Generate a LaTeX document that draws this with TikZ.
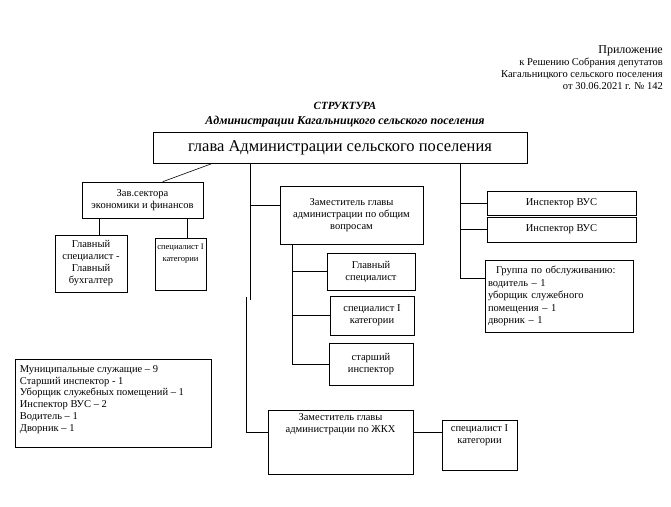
\documentclass[tikz,border=0pt]{standalone}
\usepackage{fontspec}
\setmainfont{Liberation Serif}
\usetikzlibrary{positioning}
\tikzstyle{blok} = [draw, semithick, rectangle, align=center, inner sep=1pt, font=\fontsize{10.5}{12}\selectfont]
\tikzstyle{tekst} = [align=center, inner sep=0pt, font=\fontsize{10.5}{12}\selectfont]
\tikzstyle{linija} = [semithick]

\begin{document}
\begin{tikzpicture}[x=1pt, y=-1pt]
	\useasboundingbox[fill=white] (0,0) rectangle (671,506);
	% header
	\node[align=right, anchor=north east, inner sep=0pt, font=\fontsize{10.5}{12}\selectfont] (pril) at (663,45)
		{{\fontsize{12}{13}\selectfont Приложение}\\к Решению Собрания депутатов\\Кагальницкого сельского поселения\\от 30.06.2021 г. № 142};
	\node[align=center, inner sep=0pt, font=\bfseries\itshape] (naslov) at (345,114.5)
		{{\fontsize{11}{15}\selectfont СТРУКТУРА}\\[2.5pt]{\fontsize{12}{15}\selectfont Администрации Кагальницкого сельского поселения}};
	% boxes
	\node[blok, minimum width=374, minimum height=31, font=\fontsize{16.5}{18}\selectfont] (head) at (340,147.5)
		{глава Администрации сельского поселения};
	\node[blok, minimum width=121, minimum height=36] (zav) at (142.5,200) {Зав.сектора\\экономики и финансов};
	\node[blok, minimum width=72, minimum height=57] (glbuh) at (91,263.5) {Главный\\специалист -\\Главный\\бухгалтер};
	\node[blok, minimum width=51, minimum height=52] (spec1) at (180.5,264) {};
	\node[tekst, anchor=north, font=\fontsize{8.5}{12}\selectfont] (spec1t) at ([yshift=-6pt]spec1.north) {специалист I\\категории};
	\node[blok, minimum width=143, minimum height=58] (zamob) at (351.5,215) {Заместитель главы\\администрации по общим\\вопросам};
	\node[blok, minimum width=88, minimum height=37] (glspec) at (371,271.5) {Главный\\специалист};
	\node[blok, minimum width=84, minimum height=39] (spec2) at (372,315.5) {специалист I\\категории};
	\node[blok, minimum width=84, minimum height=42] (starsh) at (371,364) {старший\\инспектор};
	\node[blok, minimum width=149, minimum height=24] (vus1) at (561.5,203) {Инспектор ВУС};
	\node[blok, minimum width=149, minimum height=25] (vus2) at (561.5,229.5) {Инспектор ВУС};
	\node[blok, minimum width=148, minimum height=72, align=left, text width=142, font=\fontsize{10.5}{12.5}\selectfont] (gruppa) at (559,296)
		{\hspace*{8pt}Группа по обслуживанию:\\водитель – 1\\уборщик служебного\\помещения – 1\\дворник – 1};
	\node[blok, minimum width=145, minimum height=64] (zhkh) at (340.5,442) {};
	\node[tekst, anchor=north] (zhkht) at ([yshift=-4pt]zhkh.north) {Заместитель главы\\администрации по ЖКХ};
	\node[blok, minimum width=75, minimum height=50] (spec3) at (479.5,445) {};
	\node[tekst, anchor=north] (spec3t) at ([yshift=-5pt]spec3.north) {специалист I\\категории};
	\node[blok, minimum width=196, minimum height=88] (itogo) at (113,403.5) {};
	\node[tekst, anchor=north west, align=left, font=\fontsize{10.5}{11.8}\selectfont] (itogot) at ([xshift=5pt, yshift=-6pt]itogo.north west)
		{Муниципальные служащие – 9\\Старший инспектор - 1\\Уборщик служебных помещений – 1\\Инспектор ВУС – 2\\Водитель – 1\\Дворник – 1};
	% connectors
	\coordinate (t1) at (250,300);
	\coordinate (t2) at (246,297);
	\coordinate (t3) at (460,0);
	\coordinate (z1) at ([xshift=18pt]zav.south west);
	\coordinate (z2) at ([xshift=-16pt]zav.south east);
	\coordinate (sub) at ([xshift=13pt]zamob.south west);
	\draw[linija] ([xshift=60pt]head.south west) -- ([xshift=81pt]zav.north west);
	\draw[linija] (z1) -- (z1 |- glbuh.north);
	\draw[linija] (z2) -- (z2 |- spec1.north);
	\draw[linija] (head.south -| t1) -- (t1);
	\draw[linija] (t2) |- ([yshift=10pt]zhkh.west);
	\draw[linija] (t1 |- 0,205) -- ([yshift=10pt]zamob.west);
	\draw[linija] (sub) |- (starsh.west);
	\draw[linija] (sub |- glspec.west) -- (glspec.west);
	\draw[linija] (sub |- spec2.west) -- (spec2.west);
	\draw[linija] (head.south -| t3) |- ([yshift=18pt]gruppa.west);
	\draw[linija] (t3 |- vus1.west) -- (vus1.west);
	\draw[linija] (t3 |- vus2.west) -- (vus2.west);
	\draw[linija] ([yshift=10pt]zhkh.east) -- (spec3.west |- 0,432);
\end{tikzpicture}
\end{document}
